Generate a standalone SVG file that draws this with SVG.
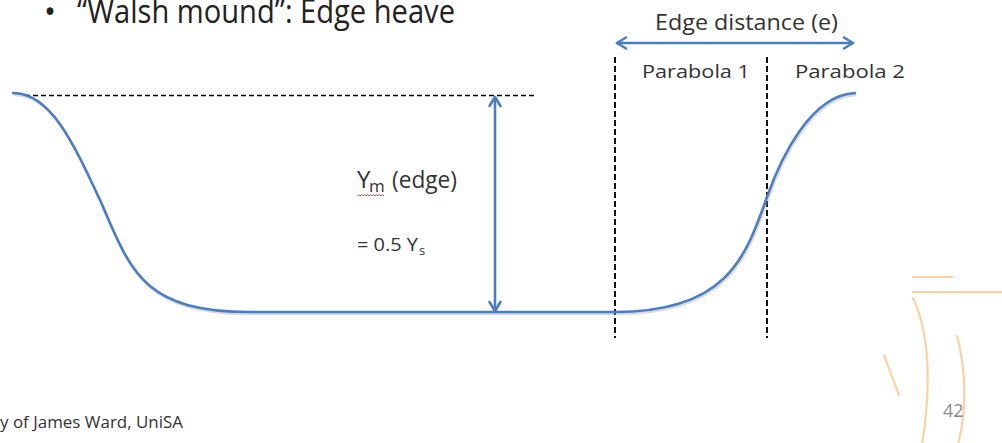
<svg xmlns="http://www.w3.org/2000/svg" width="1002" height="443" viewBox="0 0 1002 443">
  <style>
    .txt { font-family: "Open Sans", "Liberation Sans", sans-serif; fill: #333; }
    .blue { fill: none; stroke: #4A7DC4; stroke-width: 2.6; stroke-linecap: round; stroke-linejoin: round; }
    .shadow { fill: none; stroke: #9a9a9a; stroke-width: 2.6; opacity: 0.35; }
    .dashH { fill: none; stroke: #000; stroke-width: 1.5; stroke-dasharray: 5 3; }
    .dashV { fill: none; stroke: #111; stroke-width: 2; stroke-dasharray: 6 3; }
    .deco { fill: none; stroke: #FBD2A4; stroke-width: 2.2; stroke-linecap: round; }
  </style>
  <rect width="1002" height="443" fill="#fff"/>

  <g id="title">
    <text class="txt" x="44" y="23" font-size="32" style="fill:#222">•</text>
    <text class="txt" x="77" y="23" font-size="32" textLength="378" lengthAdjust="spacingAndGlyphs" style="fill:#222">“Walsh mound”: Edge heave</text>
  </g>

  <g id="decoration">
    <line class="deco" x1="913" y1="277" x2="952" y2="277"/>
    <line class="deco" x1="913" y1="292" x2="1002" y2="292"/>
    <path class="deco" d="M913,298 C928,330 932,380 922,445"/>
    <path class="deco" d="M957,336 C966,370 967,410 958,445"/>
    <line class="deco" x1="884" y1="355" x2="899" y2="395"/>
  </g>

  <g id="reference-lines">
    <line class="dashH" x1="25" y1="95.5" x2="535" y2="95.5"/>
    <line class="dashV" x1="615" y1="57" x2="615" y2="338"/>
    <line class="dashV" x1="767" y1="57" x2="767" y2="338"/>
  </g>

  <g id="mound-profile">
    <path class="shadow" transform="translate(1,2)" d="M13,93 C50,93 72,140 100,200 C130,268 140,312 250,312 L615,312 C725,312 745,260 767,197 C780,160 810,95 855,93"/>
    <path class="blue" d="M13,93 C50,93 72,140 100,200 C130,268 140,312 250,312 L615,312 C725,312 745,260 767,197 C780,160 810,95 855,93"/>
  </g>

  <g id="connectors">
    <g id="edge-distance-arrow">
      <line class="blue" x1="617" y1="43" x2="853" y2="43"/>
      <polyline class="blue" points="626,37.5 617,43 626,48.5"/>
      <polyline class="blue" points="844,37.5 853,43 844,48.5"/>
    </g>
    <g id="ym-arrow">
      <line class="blue" x1="495" y1="97" x2="495" y2="311"/>
      <polyline class="blue" points="489.5,106 495,97 500.5,106"/>
      <polyline class="blue" points="489.5,302 495,311 500.5,302"/>
    </g>
  </g>

  <g id="label-edge-distance">
    <text class="txt" x="655" y="30" font-size="21" textLength="183" lengthAdjust="spacingAndGlyphs">Edge distance (e)</text>
  </g>
  <g id="label-parabola-1">
    <text class="txt" x="642" y="78" font-size="19" textLength="108" lengthAdjust="spacingAndGlyphs">Parabola 1</text>
  </g>
  <g id="label-parabola-2">
    <text class="txt" x="795" y="78" font-size="19" textLength="110" lengthAdjust="spacingAndGlyphs">Parabola 2</text>
  </g>

  <g id="label-ym">
    <text class="txt" x="357" y="188" font-size="24">Y</text>
    <text class="txt" x="369" y="192" font-size="17">m</text>
    <text class="txt" x="392" y="188" font-size="24" textLength="65" lengthAdjust="spacingAndGlyphs">(edge)</text>
    <path d="M357,196 l1.5,-1.5 l1.5,1.5 l1.5,-1.5 l1.5,1.5 l1.5,-1.5 l1.5,1.5 l1.5,-1.5 l1.5,1.5 l1.5,-1.5 l1.5,1.5 l1.5,-1.5 l1.5,1.5 l1.5,-1.5 l1.5,1.5 l1.5,-1.5 l1.5,1.5 l1.5,-1.5 l1.5,1.5" fill="none" stroke="#e33" stroke-width="0.9"/>
  </g>
  <g id="label-ratio">
    <text class="txt" x="357" y="251" font-size="19" textLength="61" lengthAdjust="spacingAndGlyphs">= 0.5 Y</text>
    <text class="txt" x="419" y="255" font-size="13">s</text>
  </g>

  <g id="footer">
    <text class="txt" x="0" y="428" font-size="16" textLength="183" lengthAdjust="spacingAndGlyphs">y of James Ward, UniSA</text>
    <text class="txt" x="943" y="417" font-size="18" style="fill:#8a8a8a">42</text>
  </g>
</svg>
